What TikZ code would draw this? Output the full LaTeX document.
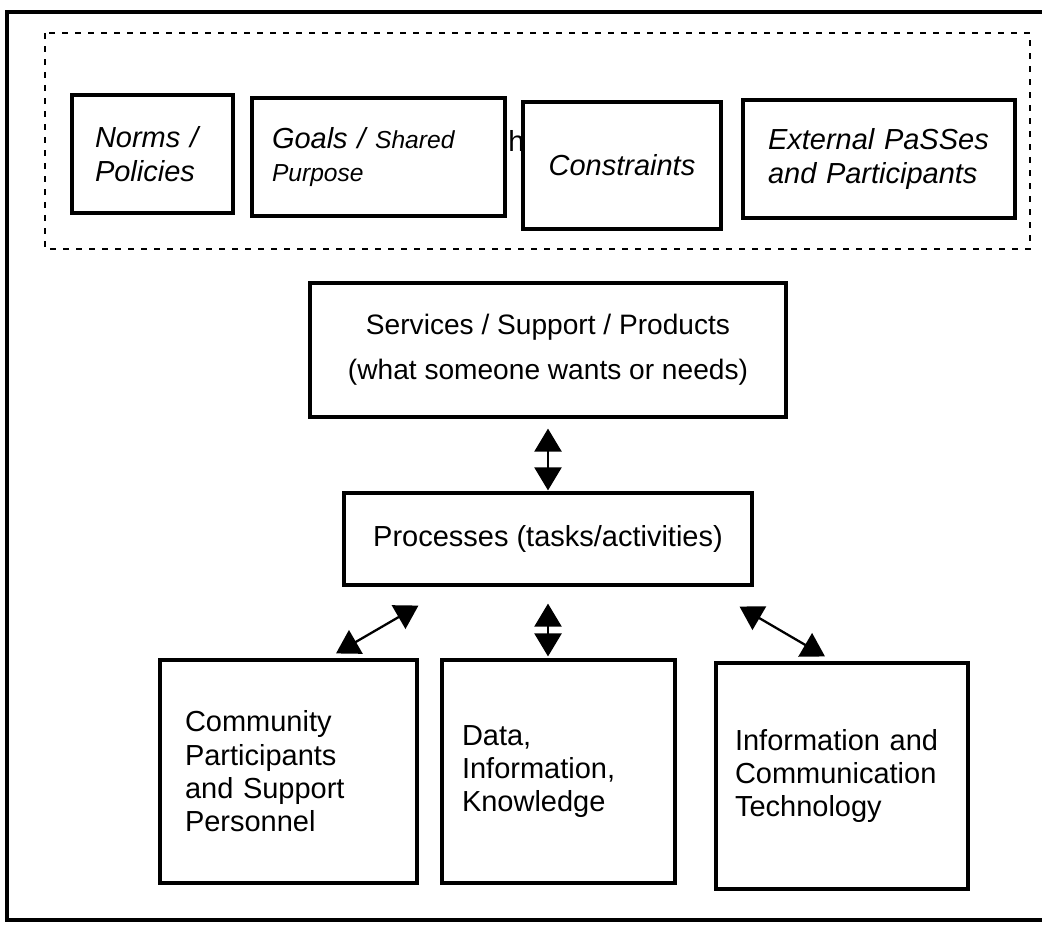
\documentclass[tikz,border=0pt]{standalone}
\usepackage{fontspec}
\setmainfont{Liberation Sans}
\usetikzlibrary{arrows.meta}
\begin{document}
\begin{tikzpicture}[x=0.02cm, y=-0.02cm]
		\tikzset{bx/.style={draw, line width=1.8pt, inner sep=0pt, fill=white, font=\fontsize{16.5}{19}\selectfont}};
		\tikzset{tp/.style={bx, align=left, minimum height=2.36cm, font=\fontsize{16.5}{19}\selectfont\itshape}};
		\tikzset{lw/.style={bx, align=left, minimum height=4.46cm}};
		\tikzset{dbl/.style={{Triangle[width=0.54cm,length=0.46cm]}-{Triangle[width=0.54cm,length=0.46cm]}, line width=1.3pt}};

		\useasboundingbox (0,0) rectangle (1042,926);
		\draw[line width=2pt] (1042,12) -- (7,12) -- (7,920) -- (1042,920);
		\draw[line width=1.6pt, dash pattern=on 3.4pt off 4pt] (45,33) rectangle (1030,249);

		\node[tp, minimum width=3.22cm, text width=2.3cm] (np) at (152.5,154) {Norms /\\Policies};
		\node[tp, minimum width=5.06cm, text width=4.26cm] (gp) at (378.5,157) {Goals / {\fontsize{14}{17}\selectfont Shared}\\{\fontsize{14}{17}\selectfont Purpose}};
		\node[font=\fontsize{16.5}{19}\selectfont, inner sep=0pt, anchor=base west] (he) at (508,152) {he};
		\node[tp, minimum width=3.96cm, minimum height=2.54cm, align=center] (cs) at (622,165.5) {Constraints};
		\node[tp, minimum width=5.44cm, text width=4.44cm] (ep) at (879,159) {External PaSSes\\and Participants};

		\node[bx, minimum width=9.52cm, minimum height=2.68cm, align=center, font=\fontsize{16}{25.5}\selectfont] (sv) at (548,350) {Services / Support / Products\\(what someone wants or needs)};
		\node[bx, minimum width=8.16cm, minimum height=1.84cm] (pr) at (548,539) {Processes (tasks/activities)};

		\node[lw, minimum width=5.14cm, text width=4.14cm] (cp) at (288.5,771.5) {Community\\Participants\\and Support\\Personnel};
		\node[lw, minimum width=4.66cm, text width=3.86cm] (dk) at (558.5,771.5) {Data,\\Information,\\Knowledge};
		\node[lw, minimum width=5.04cm, minimum height=4.52cm, text width=4.28cm] (ic) at (842,776) {Information and\\Communication\\Technology};

		\draw[dbl, shorten <=0.2cm, shorten >=0.02cm] (sv) -- (pr);
		\draw[dbl, shorten <=0.34cm, shorten >=0.04cm] (pr.south) -- (pr.south |- dk.north);
		\draw[dbl] ([xshift=1.52cm,yshift=-0.38cm]pr.south west) -- ([xshift=0.95cm,yshift=0.1cm]cp.north);
		\draw[dbl] ([xshift=-0.28cm,yshift=-0.4cm]pr.south east) -- ([xshift=-0.34cm,yshift=0.1cm]ic.north);
	\end{tikzpicture}
\end{document}
